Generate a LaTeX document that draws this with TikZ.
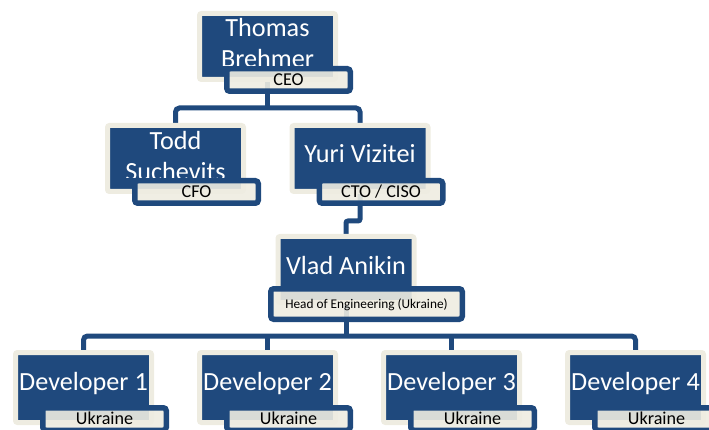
\documentclass[tikz,border=0pt]{standalone}
\usepackage{fontspec}
\setmainfont{Carlito}
\usetikzlibrary{calc}
\definecolor{orgblue}{RGB}{31,73,125}
\definecolor{orgcream}{RGB}{238,236,225}
\pgfdeclarelayer{background}
\pgfsetlayers{background,main}
\tikzset{
 mainbox/.style={draw=orgcream, fill=orgblue, line width=5pt, rounded corners=2pt, minimum width=136pt, minimum height=66pt, inner sep=0pt, anchor=north west},
 devbox/.style={mainbox, minimum height=70pt},
 subbox/.style={draw=orgblue, fill=orgcream, fill opacity=0.9, text opacity=1, line width=5.5pt, rounded corners=3pt, minimum width=123.5pt, minimum height=22.5pt, inner sep=0pt, anchor=north west, font=\fontsize{18.1}{20}\selectfont, text=black, text height=11pt, text depth=0pt},
 nametext/.style={text=white, font=\fontsize{26.2}{30}\selectfont, inner sep=0pt, anchor=base},
 conn/.style={draw=orgblue, line width=5pt, rounded corners=4pt},
}
\begin{document}
\begin{tikzpicture}[x=1pt,y=-1pt]
\useasboundingbox (0,0) rectangle (709,430);
% main boxes
\node[mainbox] (thomas) at (197,11) {};
\node[mainbox] (todd) at (105,123) {};
\node[mainbox] (yuri) at (289.5,123) {};
\node[mainbox] (vlad) at (275.5,234) {};
\node[devbox] (dev1) at (13,350) {};
\node[devbox] (dev2) at (197,350) {};
\node[devbox] (dev3) at (381,350) {};
\node[devbox] (dev4) at (565,350) {};
% subtitle boxes
\node[subbox] (thomasS) at ($(thomas.north west)+(27,55)$) {CEO};
\node[subbox] (toddS) at ($(todd.north west)+(27,55)$) {CFO};
\node[subbox] (yuriS) at ($(yuri.north west)+(27,55)$) {CTO / CISO};
\node[subbox, minimum width=191.5pt, minimum height=30.5pt, font=\fontsize{13.3}{15}\selectfont, text height=8pt] (vladS) at ($(vlad.north west)+(-7.5,52)$) {Head of Engineering (Ukraine)};
\node[subbox] (dev1S) at ($(dev1.north west)+(27,55)$) {Ukraine};
\node[subbox] (dev2S) at ($(dev2.north west)+(27,55)$) {Ukraine};
\node[subbox] (dev3S) at ($(dev3.north west)+(27,55)$) {Ukraine};
\node[subbox] (dev4S) at ($(dev4.north west)+(27,55)$) {Ukraine};
% names
\begin{scope}
\clip (thomas.north west) rectangle (thomas.east |- thomasS.north);
\node[nametext] (thomasA) at ($(thomas.north)+(0,26)$) {Thomas};
\node[nametext] (thomasB) at ($(thomas.north)+(0,56.5)$) {Brehmer};
\end{scope}
\begin{scope}
\clip (todd.north west) rectangle (todd.east |- toddS.north);
\node[nametext] (toddA) at ($(todd.north)+(0,27)$) {Todd};
\node[nametext] (toddB) at ($(todd.north)+(0,57.5)$) {Suchevits};
\end{scope}
\node[nametext] (yuriA) at ($(yuri.north)+(0,40)$) {Yuri Vizitei};
\node[nametext] (vladA) at ($(vlad.north)+(0,41)$) {Vlad Anikin};
\node[nametext] (dev1A) at ($(dev1.north)+(0,40)$) {Developer 1};
\node[nametext] (dev2A) at ($(dev2.north)+(0,40)$) {Developer 2};
\node[nametext] (dev3A) at ($(dev3.north)+(0,40)$) {Developer 3};
\node[nametext] (dev4A) at ($(dev4.north)+(0,40)$) {Developer 4};
% junctions
\coordinate (jT) at (267.5,108);
\coordinate (jY) at (346,221);
\coordinate (jV) at (346,336);
% connectors
\begin{pgfonlayer}{background}
\draw[conn] (thomas.south) -- (jT);
\draw[conn] (todd.north) |- (jT) -| (yuri.north);
\draw[conn, rounded corners=2pt] (yuri.south) |- (jY) -- (vlad.north);
\draw[conn] (vlad.south) -- (jV);
\draw[conn] (dev1.north) |- (jV) -| (dev4.north);
\draw[conn] (dev2.north) -- (dev2.north |- jV);
\draw[conn] (dev3.north) -- (dev3.north |- jV);
\end{pgfonlayer}
\end{tikzpicture}
\end{document}
